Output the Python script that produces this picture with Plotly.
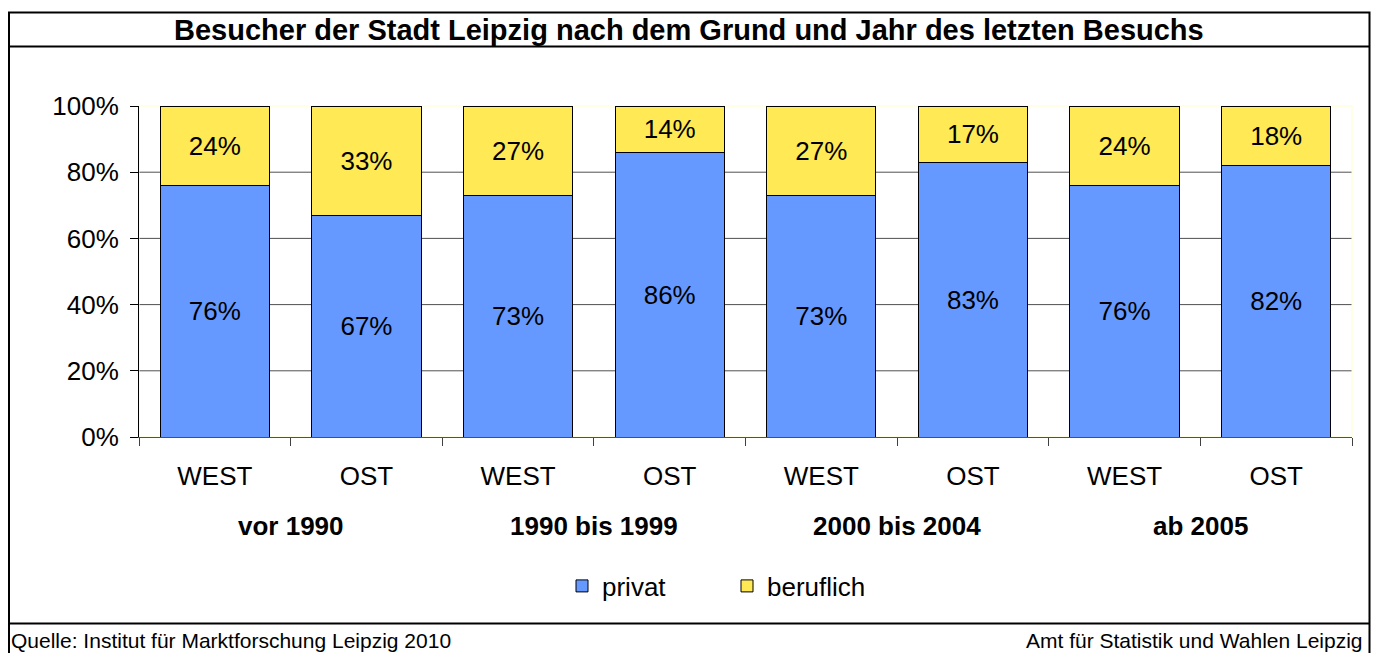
import plotly.graph_objects as go

title = "Besucher der Stadt Leipzig nach dem Grund und Jahr des letzten Besuchs"
regions = ["WEST", "OST", "WEST", "OST", "WEST", "OST", "WEST", "OST"]
periods = ["vor 1990", "1990 bis 1999", "2000 bis 2004", "ab 2005"]
privat = [76, 67, 73, 86, 73, 83, 76, 82]
beruflich = [24, 33, 27, 14, 27, 17, 24, 18]
y_ticks = [0, 20, 40, 60, 80, 100]
y_ticklabels = ["0%", "20%", "40%", "60%", "80%", "100%"]
source_left = "Quelle: Institut für Marktforschung Leipzig 2010"
source_right = "Amt für Statistik und Wahlen Leipzig"

FONT = "Liberation Sans, Arial, sans-serif"
FS = 26
xpos = list(range(len(regions)))

fig = go.Figure()
fig.add_trace(go.Bar(
    x=xpos, y=privat, name="privat",
    marker=dict(color="#6699FF", line=dict(color="#000000", width=1)),
    text=[f"{v}%" for v in privat], textposition="inside",
    insidetextanchor="middle", textangle=0,
    textfont=dict(family=FONT, size=FS, color="black"),
))
fig.add_trace(go.Bar(
    x=xpos, y=beruflich, name="beruflich",
    marker=dict(color="#FFE955", line=dict(color="#000000", width=1)),
    text=[f"{v}%" for v in beruflich], textposition="inside",
    insidetextanchor="middle", textangle=0,
    textfont=dict(family=FONT, size=FS, color="black"),
))

W, H = 1375, 653
L, R, T, B = 139, 23, 106, 216
pw, ph = W - L - R, H - T - B

def px(xp):
    return (xp - L) / pw

def py(yp):
    return (H - B - yp) / ph

shapes = []
for g in [20, 40, 60, 80]:
    shapes.append(dict(type="line", xref="paper", yref="y", x0=0, x1=1, y0=g, y1=g,
                       line=dict(color="#505050", width=1), layer="below"))
shapes.append(dict(type="rect", xref="paper", yref="paper", x0=0, x1=1, y0=0, y1=1,
                   line=dict(color="#FFFFCC", width=1), layer="below"))
shapes.append(dict(type="rect", xref="paper", yref="paper",
                   x0=px(9), x1=px(1369.5), y0=py(12.5), y1=py(670),
                   line=dict(color="black", width=2)))
shapes.append(dict(type="line", xref="paper", yref="paper",
                   x0=px(9), x1=px(1369.5), y0=py(46.5), y1=py(46.5),
                   line=dict(color="black", width=2)))
shapes.append(dict(type="line", xref="paper", yref="paper",
                   x0=px(9), x1=px(1369.5), y0=py(623.5), y1=py(623.5),
                   line=dict(color="black", width=2)))

annotations = [
    dict(text=f"<b>{title}</b>", xref="paper", yref="paper", x=px(689), y=py(30),
         showarrow=False, xanchor="center", yanchor="middle",
         font=dict(family=FONT, size=29, color="black")),
    dict(text=source_left, xref="paper", yref="paper", x=px(9), y=py(640),
         showarrow=False, xanchor="left", yanchor="middle",
         font=dict(family=FONT, size=21, color="black")),
    dict(text=source_right, xref="paper", yref="paper", x=px(1365), y=py(640),
         showarrow=False, xanchor="right", yanchor="middle",
         font=dict(family=FONT, size=21, color="black")),
]
for i, p in enumerate(periods):
    annotations.append(dict(text=f"<b>{p}</b>", xref="x", yref="paper",
                            x=2 * i + 0.5, y=py(526), showarrow=False,
                            xanchor="center", yanchor="middle",
                            font=dict(family=FONT, size=FS, color="black")))

fig.update_layout(
    width=W, height=H,
    margin=dict(l=L, r=R, t=T, b=B, autoexpand=False),
    barmode="stack", bargap=0.28,
    plot_bgcolor="white", paper_bgcolor="white",
    font=dict(family=FONT, size=FS, color="black"),
    showlegend=True,
    legend=dict(orientation="h", x=px(727), y=py(586), xanchor="center", yanchor="middle",
                font=dict(family=FONT, size=FS, color="black"), traceorder="normal",
                itemclick=False, entrywidth=120, entrywidthmode="pixels"),
    shapes=shapes, annotations=annotations,
    xaxis=dict(range=[-0.5, 7.5], tickvals=xpos, ticktext=regions, ticks="",
               showgrid=False, zeroline=False, showline=True, linecolor="#505050", linewidth=1,
               tickfont=dict(family=FONT, size=FS, color="black"), ticklabelstandoff=16,
               minor=dict(ticks="outside", ticklen=8, tick0=-0.5, dtick=1,
                          tickcolor="#404040", showgrid=False)),
    yaxis=dict(range=[0, 100], tickmode="array", tickvals=y_ticks, ticktext=y_ticklabels,
               ticks="outside", ticklen=8, tickcolor="black", showgrid=False,
               zeroline=False, showline=True, linecolor="black", linewidth=1,
               ticklabelstandoff=6,
               tickfont=dict(family=FONT, size=FS, color="black")),
)

fig.write_html("out.html", config={"displayModeBar": False},
               post_script="document.body.style.margin='0';document.body.style.padding='0';")
